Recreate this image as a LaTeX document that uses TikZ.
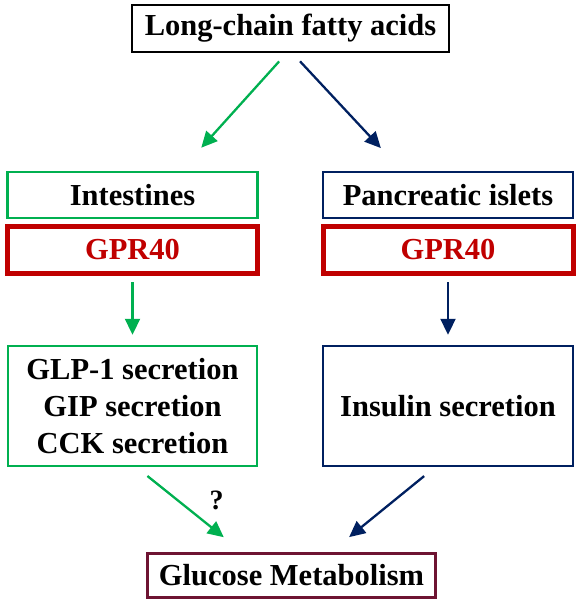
\documentclass[tikz,border=0pt]{standalone}
\usepackage{fontspec}
\setmainfont{Liberation Serif}
\usetikzlibrary{arrows.meta}
\definecolor{fagreen}{RGB}{0,176,80}
\definecolor{fanavy}{RGB}{0,32,96}
\definecolor{fared}{RGB}{192,0,0}
\definecolor{famaroon}{RGB}{110,20,50}
\begin{document}
\begin{tikzpicture}[x=1pt, y=-1pt,
    box/.style={draw, rectangle, line width=2.5pt, inner sep=0pt, align=center,
        font=\fontsize{30.5}{37}\selectfont\bfseries},
    gprbox/.style={box, draw=fared, line width=5pt, text=fared},
    arr/.style={line width=2.3pt, -{Triangle[length=16pt, width=15pt]}}]
    \useasboundingbox (0,0) rectangle (578,605);

    % Узлы
    \node[box, minimum width=317pt, minimum height=47pt] (lcfa) at (290.5,28.5) {Long-chain fatty acids};
    \foreach \x/\name/\col/\txt in {132.5/int/fagreen/Intestines, 448/pan/fanavy/Pancreatic islets} {
        \node[box, draw=\col, minimum width=250pt, minimum height=46pt] (\name) at (\x,195) {\txt};
        \node[gprbox, minimum width=250pt, minimum height=47pt] (gpr\name) at (\x,250) {GPR40};
    }
    \node[box, draw=fagreen, minimum width=249pt, minimum height=120pt] (glp) at (132.5,406)
        {GLP-1 secretion\\GIP secretion\\CCK secretion};
    \node[box, draw=fanavy, minimum width=250pt, minimum height=120pt] (ins) at (448,406) {Insulin secretion};
    \node[box, draw=famaroon, minimum width=288pt, minimum height=44pt] (glu) at (291.5,575.5) {Glucose Metabolism};

    % Соединения
    \draw[arr, fagreen, shorten <=11pt, shorten >=31pt] ([xshift=-4pt]lcfa.south) -- ([xshift=48pt]int.north);
    \draw[arr, fanavy, shorten <=11pt, shorten >=31pt] ([xshift=2pt]lcfa.south) -- ([xshift=-46pt]pan.north);
    \draw[arr, fagreen, shorten <=6pt, shorten >=10pt] (gprint) -- (glp);
    \draw[arr, fanavy, shorten <=6pt, shorten >=10pt] (gprpan) -- (ins);
    \draw[arr, fagreen, shorten <=14pt, shorten >=24pt] ([xshift=4pt]glp.south) -- ([xshift=-49pt]glu.north)
        node[midway, xshift=27pt, yshift=9.5pt, text=black, font=\fontsize{28}{30}\selectfont\bfseries] (q) {?};
    \draw[arr, fanavy, shorten <=14pt, shorten >=24pt] ([xshift=-13pt]ins.south) -- ([xshift=39pt]glu.north);
\end{tikzpicture}
\end{document}
